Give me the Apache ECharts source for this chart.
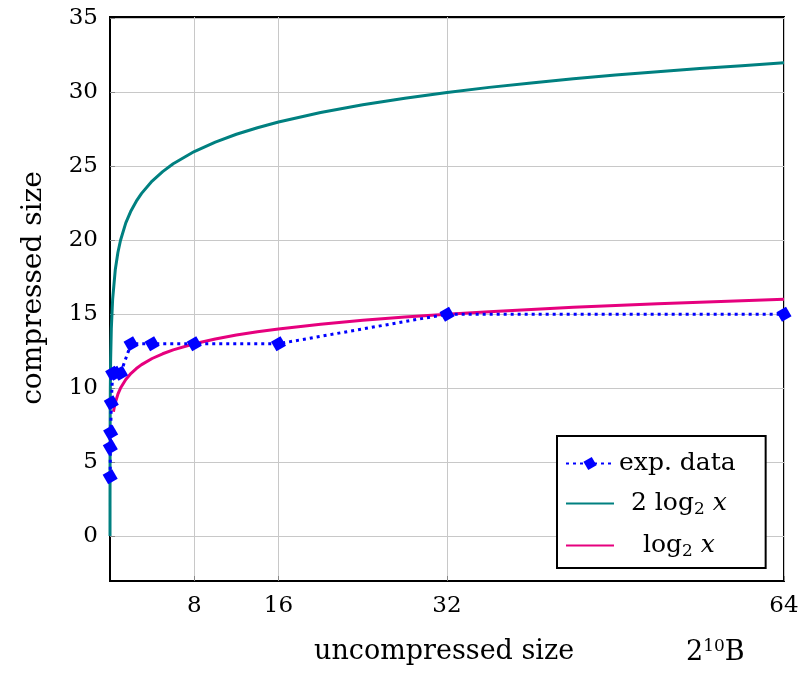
<!DOCTYPE html>
<html>
<head>
<meta charset="utf-8">
<script src="https://cdn.jsdelivr.net/npm/echarts@6/dist/echarts.min.js"></script>
<style>html,body{margin:0;padding:0;background:#fff}#c{width:804px;height:679px}</style>
</head>
<body>
<div id="c"></div>
<script>
// experimental data (x in 2^10 B, y compressed size)
const expX = [0.015625, 0.03125, 0.0625, 0.125, 0.25, 0.5, 1, 2, 4, 8, 16, 32, 64];
const expY = [4, 6, 7, 9, 11, 11, 11, 13, 13, 13, 13, 15, 15];
// 2 log2 x curve (sampled values, x in 2^10 B)
const twoLogX = [0.0009765625, 0.001953125, 0.00390625, 0.0078125, 0.015625, 0.03125, 0.0625, 0.125, 0.25, 0.5, 0.75, 1, 1.5, 2, 2.5, 3, 4, 5, 6, 8, 10, 12, 14, 16, 20, 24, 28, 32, 36, 40, 44, 48, 52, 56, 60, 64];
const twoLogY = [0, 2, 4, 6, 8, 10, 12, 14, 16, 18, 19.17, 20, 21.17, 22, 22.64, 23.17, 24, 24.64, 25.17, 26, 26.64, 27.17, 27.61, 28, 28.64, 29.17, 29.61, 30, 30.34, 30.64, 30.92, 31.17, 31.40, 31.61, 31.81, 32];
// log2 x curve
const logX = [0.33, 0.4, 0.5, 0.75, 1, 1.5, 2, 2.5, 3, 4, 5, 6, 8, 10, 12, 14, 16, 20, 24, 28, 32, 36, 40, 44, 48, 52, 56, 60, 64];
const logY = [8.40, 8.68, 9, 9.585, 10, 10.585, 11, 11.32, 11.585, 12, 12.32, 12.585, 13, 13.32, 13.585, 13.807, 14, 14.32, 14.585, 14.807, 15, 15.17, 15.32, 15.46, 15.585, 15.70, 15.807, 15.907, 16];
// ticks
const xTicks = [8, 16, 32, 64];
const yTicks = [0, 5, 10, 15, 20, 25, 30, 35];

const zip = (a, b) => a.map((v, i) => [v, b[i]]);
const serif = '"DejaVu Serif", serif';
const chart = echarts.init(document.getElementById('c'));
chart.setOption({
  animation: false,
  backgroundColor: '#fff',
  grid: { left: 110, right: 20, top: 17, bottom: 98, show: true, borderColor: '#000', borderWidth: 2, backgroundColor: 'transparent' },
  xAxis: {
    type: 'value', min: 0, max: 64,
    axisLine: { show: true, onZero: false, lineStyle: { color: '#000', width: 2 } },
    axisTick: { show: true, inside: true, length: 5, customValues: xTicks, lineStyle: { color: '#888' } },
    axisLabel: { customValues: xTicks, margin: 14, color: '#000', fontFamily: serif, fontSize: 23 },
    splitLine: { show: true, lineStyle: { color: '#c8c8c8', width: 1 } }
  },
  yAxis: {
    type: 'value', min: -3.05, max: 35.1,
    axisLine: { show: true, onZero: false, lineStyle: { color: '#000', width: 2 } },
    axisTick: { show: true, inside: true, length: 5, customValues: yTicks, lineStyle: { color: '#888' } },
    axisLabel: { customValues: yTicks, margin: 12, color: '#000', fontFamily: serif, fontSize: 23 },
    splitLine: { show: true, lineStyle: { color: '#c8c8c8', width: 1 } }
  },
  legend: {
    orient: 'vertical', left: 557, top: 436,
    padding: [15, 30, 8, 8],
    backgroundColor: '#fff', borderColor: '#000', borderWidth: 2, borderRadius: 0,
    itemWidth: 48, itemHeight: 12, itemGap: 15,
    data: ['exp. data', '2 log2 x', 'log2 x'],
    formatter: function (n) {
      if (n === 'exp. data') return '{a|exp. data}';
      if (n === '2 log2 x') return '{p2| }{a|2 log}{s|2}{i| x}';
      return '{p3| }{a|log}{s|2}{i| x}';
    },
    textStyle: {
      color: '#000', fontFamily: serif, fontSize: 25,
      rich: {
        a: { fontFamily: serif, fontSize: 25, color: '#000' },
        s: { fontFamily: serif, fontSize: 17, color: '#000', padding: [12, 0, 0, 0] },
        i: { fontFamily: serif, fontSize: 25, fontStyle: 'italic', color: '#000' },
        p2: { width: 12 },
        p3: { width: 24 }
      }
    }
  },
  graphic: [
    { type: 'text', x: 34, y: 288, rotation: Math.PI / 2,
      style: { text: 'compressed size', font: '28px "DejaVu Serif", serif', fill: '#000', align: 'center', verticalAlign: 'middle' } },
    { type: 'text', left: 314, top: 638, style: { text: 'uncompressed size', font: '27px "DejaVu Serif", serif', fill: '#000' } },
    { type: 'text', left: 686, top: 638, style: { text: '2{sup|10}B', font: '27px "DejaVu Serif", serif', fill: '#000',
      rich: { sup: { fontSize: 17, fontFamily: serif, padding: [0, 0, 13, 0] } } } }
  ],
  series: [
    { name: 'exp. data', type: 'line', data: zip(expX, expY), z: 3,
      symbol: 'rect', symbolSize: 11, symbolRotate: 30,
      itemStyle: { color: '#0000ff' },
      lineStyle: { color: '#0000ff', width: 3, type: [3, 4] } },
    { name: '2 log2 x', type: 'line', data: zip(twoLogX, twoLogY), showSymbol: false, z: 2,
      itemStyle: { color: '#008080', opacity: 0 }, lineStyle: { color: '#008080', width: 3, opacity: 1 } },
    { name: 'log2 x', type: 'line', data: zip(logX, logY), showSymbol: false, z: 2,
      itemStyle: { color: '#e6007e', opacity: 0 }, lineStyle: { color: '#e6007e', width: 3, opacity: 1 } }
  ]
});
</script>
</body>
</html>
